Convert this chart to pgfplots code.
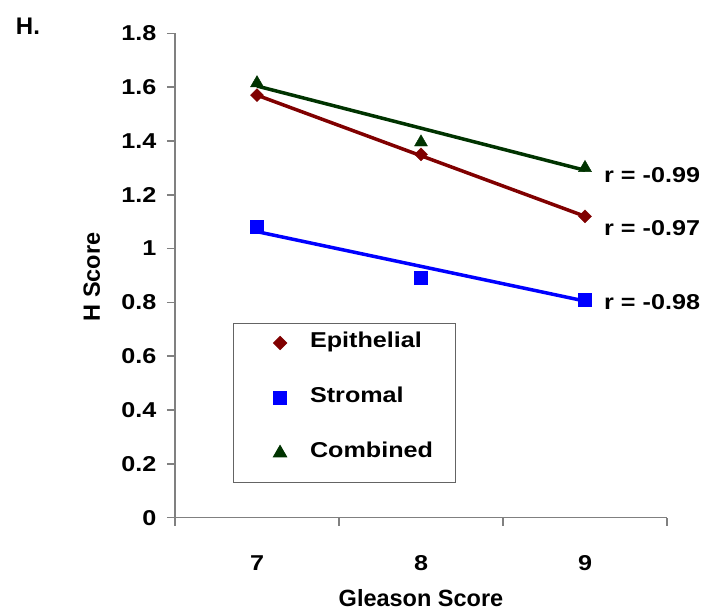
\documentclass[border=0pt]{standalone}
\usepackage{pgfplots}
\pgfplotsset{compat=1.18}
\usepackage{fontspec}
\setmainfont{Liberation Sans}
\newfontfamily\widefont{Liberation Sans}[FakeStretch=1.17]
\definecolor{epi}{RGB}{128,0,0}
\definecolor{stro}{RGB}{0,0,255}
\definecolor{comb}{RGB}{0,51,0}
\definecolor{axgray}{RGB}{128,128,128}
\definecolor{leggray}{RGB}{100,100,100}
\newcommand{\tickf}{\widefont\bfseries\fontsize{21.5}{25}\selectfont}
\newcommand{\labf}{\bfseries\fontsize{23.5}{28}\selectfont}
\begin{document}
\begin{tikzpicture}[x=1pt,y=1pt]
\path[use as bounding box] (0,0) rectangle (707,611);
\begin{axis}[
  at={(175pt,93.3pt)}, anchor=south west,
  scale only axis, width=492pt, height=484.4pt,
  xmin=6.5, xmax=9.5, ymin=0, ymax=1.8,
  axis lines*=left,
  axis line style={axgray, line width=1.5pt},
  xtick={7,8,9}, xticklabels={7,8,9},
  minor xtick={6.5,7.5,8.5,9.5},
  ytick={0,0.2,0.4,0.6,0.8,1,1.2,1.4,1.6,1.8},
  yticklabels={0,0.2,0.4,0.6,0.8,1,1.2,1.4,1.6,1.8},
  tick align=outside, major tick length=8pt, minor tick length=8pt,
  tick style={axgray, line width=1.5pt},
  major x tick style={draw=none},
  /pgf/number format/assume math mode=true,
  tick label style={font=\tickf},
  yticklabel style={xshift=-7pt},
  xticklabel style={yshift=-26pt},
  xlabel={Gleason Score}, ylabel={H Score},
  every axis x label/.style={at={(axis description cs:0.5,-0.165)}, anchor=center, font=\labf},
  every axis y label/.style={at={(axis description cs:-0.169,0.497)}, rotate=90, anchor=center, font=\labf},
  clip=false,
  legend image code/.code={\path (-31pt,5pt); \draw plot coordinates {(0pt,5pt)};},
  legend style={at={(axis cs:6.854,0.7235)}, anchor=north west,
    draw=leggray, line width=1pt, fill=white,
    inner xsep=15pt, inner ysep=8pt, row sep=22pt,
    cells={anchor=west},
    nodes={inner sep=0pt, text width=130pt, text height=16pt, text depth=17pt, font=\tickf},
    /tikz/every odd column/.append style={column sep=23.5pt}},
]
% trend lines
\addplot[forget plot, epi, line width=3.5pt] coordinates {(7,1.570) (9,1.120)};
\addplot[forget plot, stro, line width=3.5pt] coordinates {(7,1.063) (9,0.805)};
\addplot[forget plot, comb, line width=3.5pt] coordinates {(7,1.604) (9,1.291)};
% data
\addplot[only marks, mark=square*, mark size=4.6pt, mark options={rotate=45, fill=epi, draw=epi}] coordinates {(7,1.57) (8,1.35) (9,1.12)};
\addlegendentry{Epithelial}
\addplot[only marks, mark=square*, mark size=6.5pt, mark options={fill=stro, draw=stro}] coordinates {(7,1.08) (8,0.89) (9,0.81)};
\addlegendentry{Stromal}
\addplot[only marks, mark=triangle*, mark size=7.5pt, mark options={fill=comb, draw=comb}] coordinates {(7,1.615) (8,1.395) (9,1.30)};
\addlegendentry{Combined}
\node[anchor=west, inner sep=0pt, font=\tickf] at (axis cs:9.116,1.273) {r = -0.99};
\node[anchor=west, inner sep=0pt, font=\tickf] at (axis cs:9.116,1.077) {r = -0.97};
\node[anchor=west, inner sep=0pt, font=\tickf] at (axis cs:9.116,0.802) {r = -0.98};
\end{axis}
\node[font=\bfseries\fontsize{24}{28}\selectfont] at (28,585) {H.};
\end{tikzpicture}
\end{document}
